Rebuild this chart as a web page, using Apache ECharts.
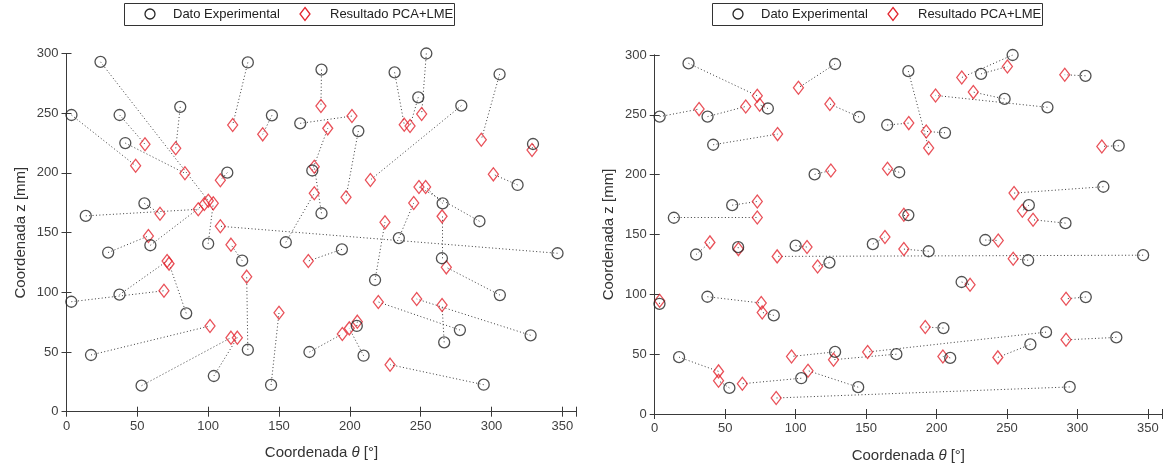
<!DOCTYPE html>
<html><head><meta charset="utf-8">
<script src="https://cdn.jsdelivr.net/npm/echarts@6/dist/echarts.min.js"></script>
<style>html,body{margin:0;padding:0;background:#fff}#c{width:1165px;height:468px}</style>
</head><body><div id="c"></div>
<script>
// ---------- data ----------
const seriesNames = ['Dato Experimental', 'Resultado PCA+LME'];
const xTickLabels = [0, 50, 100, 150, 200, 250, 300, 350];
const yTickLabels = [0, 50, 100, 150, 200, 250, 300];
const yName = 'Coordenada z [mm]';

// experimental points (same in both panels)
const expTheta = [24, 128, 3.5, 37.5, 80.3, 145, 165, 41.5, 113.5, 55,
  13.6, 173.5, 180, 180, 254, 231.6, 305.7, 248.3, 278.7, 206,
  329.3, 318.4, 265.5, 291.5, 29.4, 59.2, 100, 154.8, 124, 37.4,
  3.4, 84.5, 17.3, 128, 104, 53, 144.4, 171.5, 234.6, 194.4,
  346.6, 265, 217.8, 305.9, 277.7, 327.6, 266.6, 204.9, 209.7, 294.5];
const expZ = [293, 292.5, 248.5, 248.5, 255.3, 248.2, 241.5, 225, 200.2, 174.5,
  164, 202, 166.2, 286.5, 300, 284.2, 282.6, 263.3, 256.3, 235,
  224.2, 189.9, 174.5, 159.5, 133.3, 139.4, 140.7, 141.9, 126.5, 98,
  92.1, 82.4, 47.5, 51.9, 29.9, 21.8, 22.4, 50, 145.4, 136,
  132.7, 128.5, 110.3, 97.7, 68.4, 64, 58.1, 71.8, 46.9, 22.6];

// left panel: estimated points (paired by index with experimental)
const leftTheta = [100.1, 117.3, 48.8, 55.4, 77.1, 138.5, 201.5, 83.6, 108.6, 66,
  93, 184.4, 174.9, 179.6, 250.7, 238.4, 292.8, 242.5, 214.5, 197.3,
  328.6, 301.3, 253.5, 248.8, 57.8, 97.3, 103.6, 174.9, 116.1, 71,
  68.8, 72.4, 101.3, 127.2, 120.6, 116.1, 150, 194.7, 245.1, 170.7,
  108.6, 265.1, 224.8, 268.1, 220.1, 247.2, 265.1, 205.3, 199.6, 228.4];
const leftZ = [176.7, 240.1, 206, 224, 220.6, 232.3, 247.6, 199.7, 193.8, 165.8,
  169.5, 237.3, 205.2, 256, 249.3, 240.4, 227.8, 239.3, 194.1, 179.6,
  219.2, 198.8, 188.2, 188.2, 147.2, 174, 174.5, 182.9, 139.9, 126.2,
  101.3, 124, 71.8, 113.1, 62, 62, 82.9, 65.1, 174.8, 126.2,
  155.3, 163.6, 158.6, 120.9, 91.9, 94.4, 89.4, 75.4, 69.8, 39.4];

// right panel: estimated points (paired by index with experimental)
const rightTheta = [72.8, 102, 31.5, 64.6, 74.5, 124.3, 180.3, 87.2, 125, 72.8,
  72.8, 165.2, 176.8, 194.4, 217.9, 250.3, 291, 226.1, 199.3, 192.7,
  317.3, 255, 260.9, 268.5, 39.2, 59.4, 108.1, 163.4, 115.6, 75.6,
  3.5, 76.3, 45.3, 97.1, 62.2, 45.3, 108.8, 126.9, 243.8, 176.8,
  86.9, 254.4, 223.8, 291.9, 151.1, 291.9, 243.5, 192, 204.5, 86.2];
const rightZ = [265.9, 272.6, 254.8, 257, 258.4, 259, 243.1, 233.9, 203.5, 177.6,
  164.2, 204.9, 166.5, 222.2, 281.2, 290.4, 283.5, 269, 266.2, 236.1,
  223.6, 184.6, 169.8, 162.3, 143.4, 137.8, 139.5, 147.9, 123.3, 92.7,
  94.7, 84.9, 35.6, 48.1, 25.3, 27.8, 36.2, 45.4, 145, 137.8,
  131.7, 129.7, 108, 96.3, 51.8, 62, 47.3, 72.7, 48.1, 13.4];

// ---------- styles ----------
const FONT = 'Liberation Sans, Arial, sans-serif';
const AX = '#3a3a3a';
const BLACK = '#262626';
const RED = '#e3262f';
const grids = [
  {left: 66.5, top: 53.5, width: 510, height: 358.2},
  {left: 654.7, top: 55, width: 509, height: 359.3}
];
const legendLeft = [124, 712];

function xAxes(gi) {
  const base = {gridIndex: gi, type: 'value', min: 0, max: 360, interval: 50,
    axisLine: {show: true, lineStyle: {color: AX, width: 1}},
    axisTick: {show: true, inside: true, length: 5, lineStyle: {color: AX}},
    splitLine: {show: false}};
  return [
    Object.assign({}, base, {position: 'bottom',
      axisLabel: {show: true, color: '#404040', fontFamily: FONT, fontSize: 13, margin: 8,
        formatter: v => xTickLabels.includes(v) ? String(v) : ''},
      name: '{a|Coordenada }{b|θ}{a| [°]}', nameLocation: 'middle', nameGap: 34,
      nameTextStyle: {rich: {a: {fontFamily: FONT, fontSize: 15, color: '#333'},
        b: {fontFamily: FONT, fontSize: 15, color: '#333', fontStyle: 'italic'}}}}),
    Object.assign({}, base, {position: 'top', axisLabel: {show: false}})
  ];
}
function yAxes(gi) {
  const base = {gridIndex: gi, type: 'value', min: 0, max: 300, interval: 50,
    axisLine: {show: true, lineStyle: {color: AX, width: 1}},
    axisTick: {show: true, inside: true, length: 5, lineStyle: {color: AX}},
    splitLine: {show: false}};
  return [
    Object.assign({}, base, {position: 'left',
      axisLabel: {show: true, color: '#404040', fontFamily: FONT, fontSize: 13, margin: 8,
        formatter: v => yTickLabels.includes(v) ? String(v) : ''},
      name: yName, nameLocation: 'middle', nameGap: 38,
      nameTextStyle: {fontFamily: FONT, fontSize: 15, color: '#333'}}),
    Object.assign({}, base, {position: 'right', axisLabel: {show: false}})
  ];
}

const xAxis = [...xAxes(0), ...xAxes(1)];
const yAxis = [...yAxes(0), ...yAxes(1)];

function panelSeries(gi, estT, estZ) {
  const xi = gi * 2, yi = gi * 2;
  return [
    {type: 'lines', coordinateSystem: 'cartesian2d', xAxisIndex: xi, yAxisIndex: yi,
      silent: true, z: 1, animation: false,
      lineStyle: {color: '#3a3a3a', width: 1, type: [1, 2.4], opacity: 1},
      data: expTheta.map((t, i) => ({coords: [[t, expZ[i]], [estT[i], estZ[i]]]}))},
    {name: seriesNames[1], type: 'scatter', xAxisIndex: xi, yAxisIndex: yi, z: 2,
      symbol: 'diamond', symbolSize: [10, 13], clip: false, animation: false,
      itemStyle: {color: 'rgba(255,255,255,0)', borderColor: RED, borderWidth: 1.3},
      data: estT.map((t, i) => [t, estZ[i]])},
    {name: seriesNames[0], type: 'scatter', xAxisIndex: xi, yAxisIndex: yi, z: 3,
      symbol: 'circle', symbolSize: 11, clip: false, animation: false,
      itemStyle: {color: 'rgba(255,255,255,0)', borderColor: BLACK, borderWidth: 1.3},
      data: expTheta.map((t, i) => [t, expZ[i]])}
  ];
}

// legend boxes drawn as graphics (MATLAB-style), absolute pixel coordinates
function legendGraphic(x0) {
  const cy = 14;
  return {type: 'group', children: [
    {type: 'rect', shape: {x: x0 + 0.5, y: 3.5, width: 330, height: 22},
      style: {fill: '#fff', stroke: '#333', lineWidth: 1}},
    {type: 'circle', shape: {cx: x0 + 26, cy: cy, r: 5},
      style: {fill: 'none', stroke: BLACK, lineWidth: 1.3}},
    {type: 'text', x: x0 + 49, y: cy, style: {text: seriesNames[0], fill: '#222',
      font: '13px ' + FONT, verticalAlign: 'middle'}},
    {type: 'polygon', shape: {points: [[x0 + 181, cy - 6.5], [x0 + 186, cy], [x0 + 181, cy + 6.5], [x0 + 176, cy]]},
      style: {fill: 'none', stroke: RED, lineWidth: 1.3}},
    {type: 'text', x: x0 + 206, y: cy, style: {text: seriesNames[1], fill: '#222',
      font: '13px ' + FONT, verticalAlign: 'middle'}}
  ]};
}

const chart = echarts.init(document.getElementById('c'), null, {renderer: 'canvas'});
chart.setOption({
  backgroundColor: '#fff',
  animation: false,
  grid: grids,
  xAxis, yAxis,
  graphic: legendLeft.map(legendGraphic),
  series: [...panelSeries(0, leftTheta, leftZ), ...panelSeries(1, rightTheta, rightZ)]
});
</script></body></html>
